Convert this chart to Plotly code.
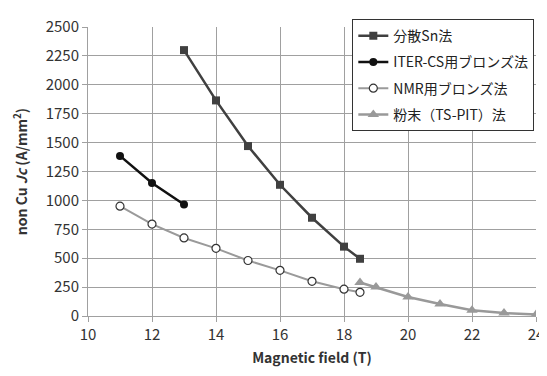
import plotly.graph_objects as go

sn_x = [13, 14, 15, 16, 17, 18, 18.5]
sn_y = [2300, 1865, 1470, 1135, 850, 600, 495]
iter_x = [11, 12, 13]
iter_y = [1385, 1150, 965]
nmr_x = [11, 12, 13, 14, 15, 16, 17, 18, 18.5]
nmr_y = [950, 795, 675, 585, 480, 395, 300, 232, 205]
pit_x = [18.5, 19, 20, 21, 22, 23, 24]
pit_y = [290, 250, 165, 103, 50, 25, 12]

names = ["分散Sn法", "ITER-CS用ブロンズ法", "NMR用ブロンズ法", "粉末（TS-PIT）法"]

font = "Noto Sans CJK JP, Open Sans, sans-serif"

fig = go.Figure()
fig.add_trace(go.Scatter(x=sn_x, y=sn_y, name=names[0], mode="lines+markers", legendgroup="a",
                         line=dict(color="#404040", width=2.5),
                         marker=dict(symbol="square", size=8, color="#404040")))
fig.add_trace(go.Scatter(x=iter_x, y=iter_y, name=names[1], mode="lines+markers", legendgroup="b",
                         line=dict(color="#111111", width=2.5),
                         marker=dict(symbol="circle", size=8, color="#111111")))
fig.add_trace(go.Scatter(x=nmr_x, y=nmr_y, name=names[2], mode="lines+markers", legendgroup="c",
                         line=dict(color="#9a9a9a", width=2),
                         marker=dict(symbol="circle", size=8, color="white",
                                     line=dict(color="#333333", width=1.2))))
fig.add_trace(go.Scatter(x=pit_x, y=pit_y, name=names[3], mode="lines+markers", legendgroup="d",
                         line=dict(color="#999999", width=2.5),
                         marker=dict(symbol="triangle-up", size=10, color="#999999")))

fig.update_layout(
    width=539, height=368,
    margin=dict(l=80, r=11, t=12, b=60),
    paper_bgcolor="white", plot_bgcolor="white",
    font=dict(family=font, size=14, color="#333333"),
    showlegend=True,
    legend=dict(x=0.59, y=1.027, xanchor="left", yanchor="top",
                bgcolor="white", bordercolor="#333333", borderwidth=1,
                font=dict(size=14, color="#222222"), tracegroupgap=5,
                itemwidth=30),
    xaxis=dict(range=[10, 24], dtick=2, tick0=10, showgrid=True, automargin=False,
               gridcolor="#a0a0a0", gridwidth=1, zeroline=False,
               showline=True, linecolor="#a0a0a0", ticks="outside",
               ticklen=5, tickcolor="#a0a0a0", tickfont=dict(size=15),
               title=dict(text="<b>Magnetic field (T)</b>", font=dict(size=14), standoff=10)),
    yaxis=dict(range=[0, 2500], dtick=250, showgrid=True, automargin=False,
               gridcolor="#a0a0a0", gridwidth=1, zeroline=False,
               showline=True, linecolor="#a0a0a0", ticks="outside",
               ticklen=5, tickcolor="#a0a0a0", tickfont=dict(size=15),
               title=dict(text="<b>non Cu <i>Jc</i> (A/mm<sup>2</sup>)</b>", font=dict(size=14), standoff=14)),
)

fig.write_html("out.html")
